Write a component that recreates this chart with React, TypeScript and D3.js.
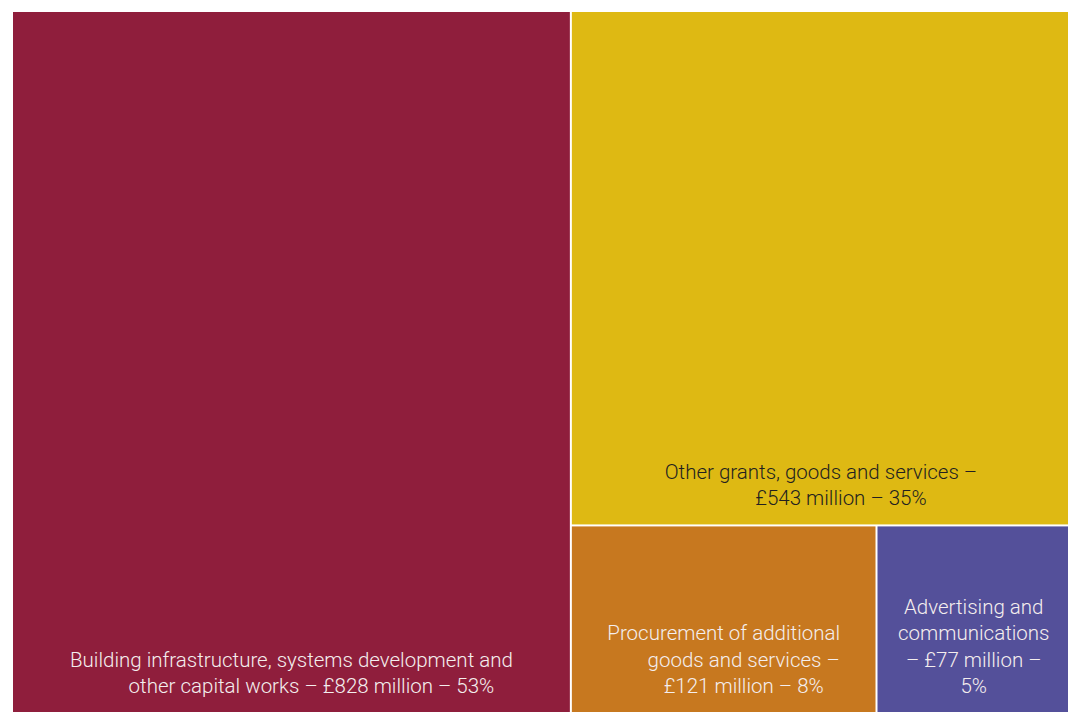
import React from "react";
import * as d3 from "d3";

const categories = [
  "Building infrastructure, systems development and other capital works",
  "Other grants, goods and services",
  "Procurement of additional goods and services",
  "Advertising and communications",
];
const valuesMillion = [828, 543, 121, 77];
const percentLabels = ["53%", "35%", "8%", "5%"];
const labelLines = [
  ["Building infrastructure, systems development and", "other capital works – £828 million – 53%"],
  ["Other grants, goods and services –", "£543 million – 35%"],
  ["Procurement of additional", "goods and services –", "£121 million – 8%"],
  ["Advertising and", "communications", "– £77 million –", "5%"],
];
const colors = ["#8f1e3c", "#deb913", "#c7781f", "#54509a"];
const textColors = ["#f4eeee", "#231f20", "#f4eeee", "#f4eeee"];

const W = 1068;
const H = 712;
const left = 13;
const top = 12;
const innerW = 1057;
const innerH = 700;

type Leaf = { name: string; value: number; idx: number };

export default function App() {
  const data = {
    name: "root",
    children: categories.map((c, i) => ({ name: c, value: valuesMillion[i], idx: i })),
  };
  const root = d3
    .hierarchy<any>(data)
    .sum((d: any) => d.value || 0)
    .sort((a, b) => (b.value || 0) - (a.value || 0));
  d3.treemap<any>().size([innerW, innerH]).paddingInner(2).tile(d3.treemapSquarify)(root);
  const leaves = root.leaves() as d3.HierarchyRectangularNode<Leaf>[];
  const lineH = 26.5;

  return (
    <svg
      width={W}
      height={H}
      style={{ position: "absolute", left: 0, top: 0, display: "block" }}
      fontFamily="Roboto, 'Liberation Sans', Arial, sans-serif"
    >
      <rect x={0} y={0} width={W} height={H} fill="#ffffff" />
      <g transform={`translate(${left},${top})`}>
        {leaves.map((n) => {
          const i = n.data.idx;
          const w = n.x1 - n.x0;
          const cx = (n.x0 + n.x1) / 2;
          const lines = labelLines[i];
          const lastBaseline = n.y1 - 19;
          const shift = w > 250 ? 20 : 0;
          return (
            <g key={i}>
              <rect x={n.x0} y={n.y0} width={w} height={n.y1 - n.y0} fill={colors[i]} />
              <text
                textAnchor="middle"
                fontSize={20.5}
                fontWeight={300}
                fill={textColors[i]}
              >
                {lines.map((l, k) => (
                  <tspan
                    key={k}
                    x={cx + (k > 0 ? shift : 0)}
                    y={lastBaseline - (lines.length - 1 - k) * lineH}
                  >
                    {l}
                  </tspan>
                ))}
              </text>
            </g>
          );
        })}
      </g>
    </svg>
  );
}
